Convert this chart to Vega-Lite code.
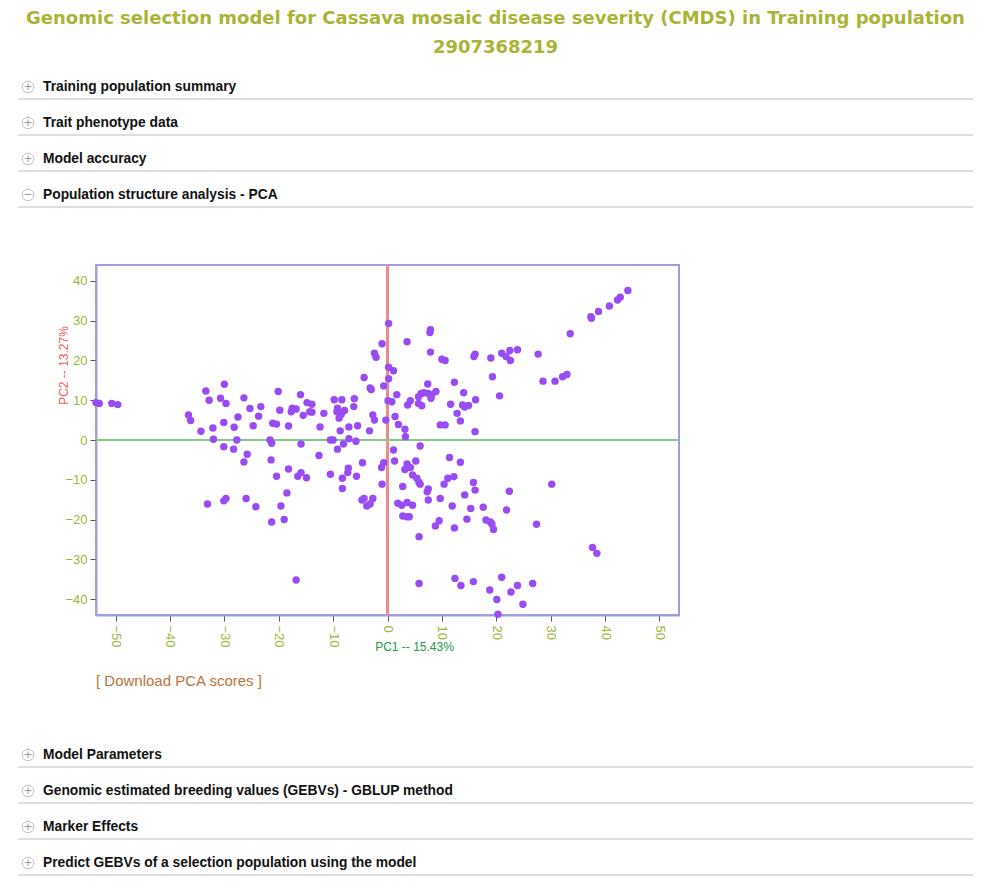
{
  "$schema": "https://vega.github.io/schema/vega-lite/v6.json",
  "padding": {"left": 17, "top": 10, "right": 0, "bottom": 0},
  "background": "white",
  "title": {
    "text": ["Genomic selection model for Cassava mosaic disease severity (CMDS) in Training population", "2907368219"],
    "anchor": "middle",
    "font": "DejaVu Sans",
    "fontSize": 18,
    "fontWeight": "bold",
    "color": "#aab336",
    "lineHeight": 29,
    "offset": 18
  },
  "config": {"concat": {"spacing": 0}},
  "vconcat": [
    {
      "width": 955,
      "height": 188,
      "view": {"stroke": null},
      "data": {"values": [
        {"row": 0, "icon": "+", "label": "Training population summary"},
        {"row": 1, "icon": "+", "label": "Trait phenotype data"},
        {"row": 2, "icon": "+", "label": "Model accuracy"},
        {"row": 3, "icon": "−", "label": "Population structure analysis - PCA"}
      ]},
      "layer": [
        {
          "mark": {"type": "rule", "color": "#dddddd", "strokeWidth": 2, "yOffset": 12},
          "encoding": {"y": {"field": "row", "type": "quantitative", "scale": {"domain": [-0.3333, 4.8889], "reverse": true, "nice": false, "zero": false}, "axis": null}}
        },
        {
          "mark": {"type": "point", "shape": "circle", "size": 135, "filled": true, "fill": "white", "stroke": "#a8a8a8", "strokeWidth": 1, "xOffset": 10},
          "encoding": {
            "y": {"field": "row", "type": "quantitative", "axis": null},
            "x": {"datum": 0, "type": "quantitative", "scale": {"domain": [0, 1]}, "axis": null}
          }
        },
        {
          "mark": {"type": "text", "xOffset": 10, "fontSize": 11, "color": "#999999", "align": "center", "baseline": "middle", "font": "DejaVu Sans"},
          "encoding": {
            "y": {"field": "row", "type": "quantitative", "axis": null},
            "x": {"datum": 0, "type": "quantitative", "axis": null},
            "text": {"field": "icon"}
          }
        },
        {
          "mark": {"type": "text", "dx": 25, "align": "left", "baseline": "middle", "font": "Liberation Sans", "fontWeight": "bold", "fontSize": 13.8, "color": "#111111"},
          "encoding": {
            "y": {"field": "row", "type": "quantitative", "axis": null},
            "x": {"datum": 0, "type": "quantitative", "axis": null},
            "text": {"field": "label"}
          }
        }
      ]
    },
    {
      "hconcat": [
        {
          "width": 38,
          "height": 1,
          "view": {"stroke": null},
          "data": {"values": []},
          "mark": "point"
        },
        {
          "width": 583,
          "height": 350,
          "view": {"stroke": "#a09ee0", "strokeWidth": 2},
          "title": {
            "text": "[ Download PCA scores ]",
            "orient": "bottom",
            "anchor": "start",
            "frame": "group",
            "font": "Liberation Sans",
            "fontSize": 15,
            "fontWeight": "normal",
            "color": "#b8743c",
            "offset": 22
          },
          "data": {"values": [
            {"pc1": -53.6, "pc2": 9.4}, {"pc1": -53.0, "pc2": 9.2}, {"pc1": -50.7, "pc2": 9.2}, {"pc1": -49.6, "pc2": 8.9},
            {"pc1": -36.6, "pc2": 6.3}, {"pc1": -36.2, "pc2": 4.9}, {"pc1": -34.3, "pc2": 2.2}, {"pc1": -33.4, "pc2": 12.3},
            {"pc1": -32.8, "pc2": 10.0}, {"pc1": -32.1, "pc2": 3.0}, {"pc1": -32.0, "pc2": 0.2}, {"pc1": -30.7, "pc2": 10.5},
            {"pc1": -30.0, "pc2": 14.0}, {"pc1": -29.7, "pc2": 9.2}, {"pc1": -30.1, "pc2": 4.4}, {"pc1": -28.2, "pc2": 3.2},
            {"pc1": -27.5, "pc2": 5.8}, {"pc1": -27.7, "pc2": 0.0}, {"pc1": -26.4, "pc2": 10.6}, {"pc1": -25.3, "pc2": 7.9},
            {"pc1": -24.7, "pc2": 3.6}, {"pc1": -23.7, "pc2": 6.0}, {"pc1": -23.3, "pc2": 8.4}, {"pc1": -21.6, "pc2": 0.0},
            {"pc1": -21.1, "pc2": 4.2}, {"pc1": -20.4, "pc2": 4.0}, {"pc1": -20.1, "pc2": 12.2}, {"pc1": -19.8, "pc2": 7.5},
            {"pc1": -18.2, "pc2": 3.5}, {"pc1": -17.7, "pc2": 7.1}, {"pc1": -17.5, "pc2": 8.0}, {"pc1": -16.8, "pc2": 7.8},
            {"pc1": -16.0, "pc2": 11.4}, {"pc1": -15.5, "pc2": 6.2}, {"pc1": -14.8, "pc2": 9.4}, {"pc1": -13.9, "pc2": 9.0},
            {"pc1": -14.3, "pc2": 7.1}, {"pc1": -13.9, "pc2": 7.0}, {"pc1": -12.4, "pc2": 3.3}, {"pc1": -11.7, "pc2": 6.7},
            {"pc1": -10.5, "pc2": 0.0}, {"pc1": -10.0, "pc2": 0.0}, {"pc1": -9.8, "pc2": 10.1}, {"pc1": -9.2, "pc2": 8.0},
            {"pc1": -8.5, "pc2": 6.5}, {"pc1": -8.9, "pc2": 5.5}, {"pc1": -9.3, "pc2": 7.1}, {"pc1": -8.4, "pc2": 10.1},
            {"pc1": -7.9, "pc2": 7.4}, {"pc1": -8.7, "pc2": 2.3}, {"pc1": -7.1, "pc2": 3.3}, {"pc1": -7.1, "pc2": 0.3},
            {"pc1": -6.1, "pc2": 10.4}, {"pc1": -6.2, "pc2": 8.4}, {"pc1": -5.5, "pc2": 3.6}, {"pc1": -4.3, "pc2": 15.7},
            {"pc1": -3.2, "pc2": 13.1}, {"pc1": -3.0, "pc2": 12.7}, {"pc1": -3.3, "pc2": 2.3}, {"pc1": -2.7, "pc2": 6.3},
            {"pc1": -2.4, "pc2": 5.0}, {"pc1": -2.4, "pc2": 21.8}, {"pc1": -2.1, "pc2": 20.8}, {"pc1": -1.0, "pc2": 24.2},
            {"pc1": -0.7, "pc2": 13.6}, {"pc1": -0.3, "pc2": 5.0}, {"pc1": 0.2, "pc2": 29.3}, {"pc1": 0.2, "pc2": 18.3},
            {"pc1": 0.2, "pc2": 15.4}, {"pc1": 0.1, "pc2": 9.9},
            {"pc1": 3.6, "pc2": 24.7}, {"pc1": 7.9, "pc2": 27.7}, {"pc1": 7.8, "pc2": 27.0}, {"pc1": 7.9, "pc2": 22.1},
            {"pc1": 10.0, "pc2": 20.3}, {"pc1": 10.6, "pc2": 20.0}, {"pc1": 1.1, "pc2": 17.4}, {"pc1": 7.4, "pc2": 14.1},
            {"pc1": 12.3, "pc2": 14.5}, {"pc1": 16.1, "pc2": 21.6}, {"pc1": 15.9, "pc2": 21.0}, {"pc1": 19.0, "pc2": 20.6},
            {"pc1": 19.3, "pc2": 15.9}, {"pc1": 21.0, "pc2": 21.8}, {"pc1": 21.8, "pc2": 21.0}, {"pc1": 22.6, "pc2": 20.0},
            {"pc1": 22.5, "pc2": 22.5}, {"pc1": 23.9, "pc2": 22.7}, {"pc1": 27.7, "pc2": 21.6}, {"pc1": 28.6, "pc2": 14.8},
            {"pc1": 30.8, "pc2": 14.8}, {"pc1": 32.2, "pc2": 15.9}, {"pc1": 33.0, "pc2": 16.5}, {"pc1": 33.6, "pc2": 26.7},
            {"pc1": 37.4, "pc2": 31.0}, {"pc1": 37.5, "pc2": 30.6}, {"pc1": 38.8, "pc2": 32.3}, {"pc1": 40.8, "pc2": 33.7},
            {"pc1": 42.3, "pc2": 35.2}, {"pc1": 42.8, "pc2": 35.9}, {"pc1": 44.2, "pc2": 37.6}, {"pc1": 0.8, "pc2": 9.6},
            {"pc1": 1.7, "pc2": 11.4}, {"pc1": 3.7, "pc2": 8.8}, {"pc1": 4.2, "pc2": 9.9}, {"pc1": 5.7, "pc2": 10.9},
            {"pc1": 6.2, "pc2": 11.7}, {"pc1": 6.7, "pc2": 11.9}, {"pc1": 5.7, "pc2": 9.2}, {"pc1": 6.3, "pc2": 8.6},
            {"pc1": 7.5, "pc2": 11.7}, {"pc1": 8.0, "pc2": 10.5}, {"pc1": 8.1, "pc2": 11.3}, {"pc1": 8.9, "pc2": 12.2},
            {"pc1": 11.6, "pc2": 9.0}, {"pc1": 12.8, "pc2": 6.7}, {"pc1": 13.4, "pc2": 4.8}, {"pc1": 14.0, "pc2": 11.9},
            {"pc1": 13.8, "pc2": 8.8}, {"pc1": 14.2, "pc2": 8.3}, {"pc1": 14.9, "pc2": 8.7}, {"pc1": 16.2, "pc2": 10.1},
            {"pc1": 20.6, "pc2": 11.1}, {"pc1": 1.4, "pc2": 5.9}, {"pc1": 2.0, "pc2": 3.9}, {"pc1": 3.2, "pc2": 2.7},
            {"pc1": 3.3, "pc2": 0.8}, {"pc1": 9.7, "pc2": 3.8}, {"pc1": 10.6, "pc2": 3.8}, {"pc1": 16.1, "pc2": 2.1},
            {"pc1": -21.3, "pc2": -0.8}, {"pc1": -30.1, "pc2": -1.7}, {"pc1": -28.3, "pc2": -2.3}, {"pc1": -25.8, "pc2": -3.6},
            {"pc1": -26.4, "pc2": -5.5}, {"pc1": -21.4, "pc2": -5.0}, {"pc1": -20.4, "pc2": -9.1}, {"pc1": -18.2, "pc2": -7.3},
            {"pc1": -18.5, "pc2": -13.3}, {"pc1": -16.5, "pc2": -9.1}, {"pc1": -15.9, "pc2": -8.2}, {"pc1": -14.9, "pc2": -9.5},
            {"pc1": -15.9, "pc2": -1.0}, {"pc1": -12.6, "pc2": -3.9}, {"pc1": -9.2, "pc2": -2.3}, {"pc1": -8.1, "pc2": -1.0},
            {"pc1": -5.8, "pc2": -0.3}, {"pc1": -10.5, "pc2": -8.6}, {"pc1": -8.3, "pc2": -9.6}, {"pc1": -7.2, "pc2": -7.1},
            {"pc1": -7.3, "pc2": -8.2}, {"pc1": -5.7, "pc2": -9.1}, {"pc1": -4.6, "pc2": -5.7}, {"pc1": -8.3, "pc2": -12.2},
            {"pc1": -1.1, "pc2": -6.9}, {"pc1": -0.7, "pc2": -5.7}, {"pc1": -1.0, "pc2": -11.1}, {"pc1": -4.7, "pc2": -15.1},
            {"pc1": -4.3, "pc2": -14.7}, {"pc1": -3.8, "pc2": -16.6}, {"pc1": -3.2, "pc2": -16.1}, {"pc1": -2.7, "pc2": -14.7},
            {"pc1": -33.1, "pc2": -16.1}, {"pc1": -30.1, "pc2": -15.3}, {"pc1": -29.7, "pc2": -14.7}, {"pc1": -26.0, "pc2": -14.7},
            {"pc1": -24.2, "pc2": -16.8}, {"pc1": -19.6, "pc2": -16.6}, {"pc1": -21.3, "pc2": -20.6}, {"pc1": -19.0, "pc2": -20.0},
            {"pc1": -16.8, "pc2": -35.2},
            {"pc1": 1.1, "pc2": -2.5}, {"pc1": 6.0, "pc2": -1.5}, {"pc1": 1.3, "pc2": -5.3}, {"pc1": 3.6, "pc2": -6.0},
            {"pc1": 3.2, "pc2": -7.4}, {"pc1": 4.2, "pc2": -6.9}, {"pc1": 5.2, "pc2": -5.3}, {"pc1": 4.6, "pc2": -8.8},
            {"pc1": 5.4, "pc2": -9.6}, {"pc1": 5.8, "pc2": -10.7}, {"pc1": 6.0, "pc2": -11.1}, {"pc1": 2.8, "pc2": -11.7},
            {"pc1": 11.4, "pc2": -4.4}, {"pc1": 13.4, "pc2": -5.6}, {"pc1": 10.4, "pc2": -11.1}, {"pc1": 11.1, "pc2": -9.6},
            {"pc1": 12.2, "pc2": -9.2}, {"pc1": 15.8, "pc2": -10.7}, {"pc1": 16.1, "pc2": -12.6}, {"pc1": 7.3, "pc2": -13.0},
            {"pc1": 7.5, "pc2": -12.3}, {"pc1": 7.5, "pc2": -15.1}, {"pc1": 9.7, "pc2": -14.7}, {"pc1": 14.2, "pc2": -13.8},
            {"pc1": 22.4, "pc2": -12.9}, {"pc1": 30.2, "pc2": -11.1}, {"pc1": 1.9, "pc2": -15.9}, {"pc1": 2.6, "pc2": -16.4},
            {"pc1": 3.6, "pc2": -15.7}, {"pc1": 4.6, "pc2": -16.4}, {"pc1": 2.8, "pc2": -19.1}, {"pc1": 3.6, "pc2": -19.3},
            {"pc1": 4.0, "pc2": -19.3}, {"pc1": 11.9, "pc2": -16.6}, {"pc1": 15.3, "pc2": -17.2}, {"pc1": 17.6, "pc2": -16.9},
            {"pc1": 21.9, "pc2": -17.6}, {"pc1": 14.6, "pc2": -19.9}, {"pc1": 8.8, "pc2": -21.6}, {"pc1": 9.5, "pc2": -20.3},
            {"pc1": 12.3, "pc2": -22.1}, {"pc1": 18.1, "pc2": -20.1}, {"pc1": 18.9, "pc2": -20.6}, {"pc1": 19.2, "pc2": -21.1},
            {"pc1": 19.5, "pc2": -22.5}, {"pc1": 27.4, "pc2": -21.2}, {"pc1": 5.8, "pc2": -24.3}, {"pc1": 37.7, "pc2": -27.0},
            {"pc1": 38.5, "pc2": -28.5}, {"pc1": 5.8, "pc2": -36.1}, {"pc1": 12.4, "pc2": -34.8}, {"pc1": 13.5, "pc2": -36.6},
            {"pc1": 15.8, "pc2": -35.6}, {"pc1": 18.8, "pc2": -37.7}, {"pc1": 20.1, "pc2": -40.1}, {"pc1": 21.0, "pc2": -34.5},
            {"pc1": 22.7, "pc2": -38.2}, {"pc1": 23.9, "pc2": -36.6}, {"pc1": 24.9, "pc2": -41.3}, {"pc1": 26.7, "pc2": -36.1},
            {"pc1": 20.3, "pc2": -43.8}
          ]},
          "layer": [
            {
              "mark": {"type": "rule", "color": "#f08a8a", "strokeWidth": 2},
              "encoding": {"x": {"datum": 0, "type": "quantitative"}}
            },
            {
              "mark": {"type": "rule", "color": "#86c986", "strokeWidth": 2},
              "encoding": {"y": {"datum": 0, "type": "quantitative"}}
            },
            {
              "mark": {"type": "circle", "size": 55, "color": "#994cf4", "opacity": 1},
              "encoding": {
                "x": {
                  "field": "pc1", "type": "quantitative",
                  "scale": {"domain": [-53.6, 53.6], "nice": false, "zero": false},
                  "axis": {
                    "values": [-50, -40, -30, -20, -10, 0, 10, 20, 30, 40, 50],
                    "grid": false,
                    "labelAngle": 90, "labelAlign": "left", "labelBaseline": "middle",
                    "labelColor": "#9cb83a", "labelFont": "Liberation Sans", "labelFontSize": 13, "labelPadding": 4,
                    "tickColor": "#555555", "tickSize": 6,
                    "domainColor": "#a09ee0", "domainWidth": 2,
                    "title": "PC1 -- 15.43%",
                    "titleColor": "#239a45", "titleFont": "Liberation Sans", "titleFontSize": 12, "titleFontWeight": "normal",
                    "titleX": 318, "titleY": 31, "titleAlign": "center", "titleBaseline": "middle"
                  }
                },
                "y": {
                  "field": "pc2", "type": "quantitative",
                  "scale": {"domain": [-44, 44], "nice": false, "zero": false},
                  "axis": {
                    "values": [-40, -30, -20, -10, 0, 10, 20, 30, 40],
                    "grid": false,
                    "labelColor": "#9cb83a", "labelFont": "Liberation Sans", "labelFontSize": 13, "labelPadding": 3,
                    "tickColor": "#555555", "tickSize": 6,
                    "domainColor": "#a09ee0", "domainWidth": 2,
                    "title": "PC2 -- 13.27%",
                    "titleColor": "#f25a5a", "titleFont": "Liberation Sans", "titleFontSize": 12, "titleFontWeight": "normal",
                    "titleAngle": -90, "titleX": -33, "titleY": 100, "titleAlign": "center", "titleBaseline": "middle"
                  }
                }
              }
            }
          ]
        }
      ]
    },
    {
      "width": 955,
      "height": 198,
      "view": {"stroke": null},
      "data": {"values": [
        {"row": 0, "icon": "+", "label": "Model Parameters"},
        {"row": 1, "icon": "+", "label": "Genomic estimated breeding values (GEBVs) - GBLUP method"},
        {"row": 2, "icon": "+", "label": "Marker Effects"},
        {"row": 3, "icon": "+", "label": "Predict GEBVs of a selection population using the model"}
      ]},
      "layer": [
        {
          "mark": {"type": "rule", "color": "#dddddd", "strokeWidth": 2, "yOffset": 12},
          "encoding": {"y": {"field": "row", "type": "quantitative", "scale": {"domain": [-1.806, 3.694], "reverse": true, "nice": false, "zero": false}, "axis": null}}
        },
        {
          "mark": {"type": "point", "shape": "circle", "size": 135, "filled": true, "fill": "white", "stroke": "#a8a8a8", "strokeWidth": 1, "xOffset": 10},
          "encoding": {
            "y": {"field": "row", "type": "quantitative", "axis": null},
            "x": {"datum": 0, "type": "quantitative", "scale": {"domain": [0, 1]}, "axis": null}
          }
        },
        {
          "mark": {"type": "text", "xOffset": 10, "fontSize": 11, "color": "#999999", "align": "center", "baseline": "middle", "font": "DejaVu Sans"},
          "encoding": {
            "y": {"field": "row", "type": "quantitative", "axis": null},
            "x": {"datum": 0, "type": "quantitative", "axis": null},
            "text": {"field": "icon"}
          }
        },
        {
          "mark": {"type": "text", "dx": 25, "align": "left", "baseline": "middle", "font": "Liberation Sans", "fontWeight": "bold", "fontSize": 13.8, "color": "#111111"},
          "encoding": {
            "y": {"field": "row", "type": "quantitative", "axis": null},
            "x": {"datum": 0, "type": "quantitative", "axis": null},
            "text": {"field": "label"}
          }
        }
      ]
    }
  ]
}
